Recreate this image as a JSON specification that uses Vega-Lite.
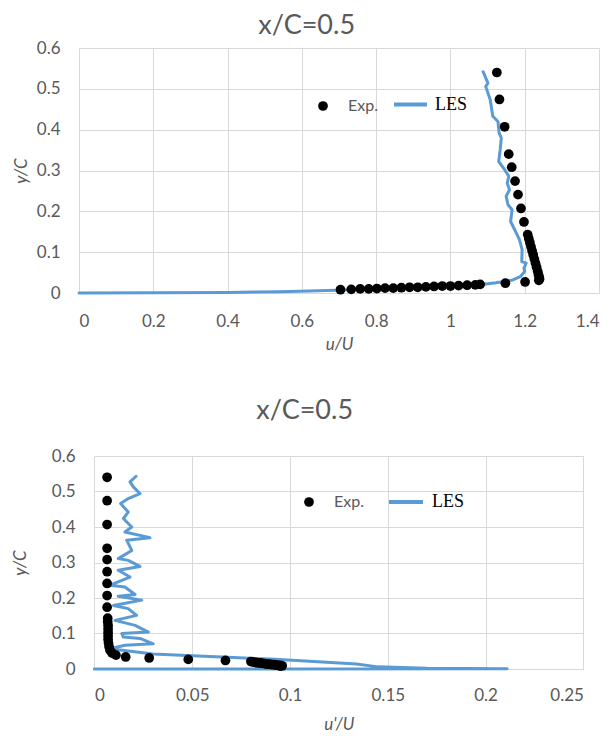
{
  "$schema": "https://vega.github.io/schema/vega-lite/v6.json",
  "padding": {"left": 11, "top": 12, "right": 5, "bottom": 5},
  "background": "white",
  "config": {
    "font": "Lato",
    "view": {"stroke": null},
    "axis": {"grid": true, "gridColor": "#D9D9D9", "gridWidth": 1, "domain": false, "ticks": false, "labelOverlap": false, "labelFont": "Lato", "labelFontSize": 17, "labelColor": "#595959", "titleFont": "Lato", "titleFontSize": 17, "titleColor": "#595959", "titleFontStyle": "italic", "titleFontWeight": "normal"},
    "title": {"font": "Lato", "fontSize": 27, "color": "#595959", "fontWeight": "normal", "frame": "bounds", "anchor": "middle"},
    "legend": {"title": null, "padding": 0, "rowPadding": 0, "labelBaseline": "middle", "orient": "none"}
  },
  "datasets": {
    "exp": [
      {"y": 0.540, "u": 1.125, "up": 0.0065},
      {"y": 0.474, "u": 1.132, "up": 0.0065},
      {"y": 0.407, "u": 1.146, "up": 0.0065},
      {"y": 0.340, "u": 1.157, "up": 0.0065},
      {"y": 0.308, "u": 1.165, "up": 0.0065},
      {"y": 0.274, "u": 1.174, "up": 0.0065},
      {"y": 0.241, "u": 1.182, "up": 0.0065},
      {"y": 0.207, "u": 1.190, "up": 0.0065},
      {"y": 0.174, "u": 1.198, "up": 0.0065},
      {"y": 0.143, "u": 1.208, "up": 0.0068},
      {"y": 0.133, "u": 1.211, "up": 0.0068},
      {"y": 0.123, "u": 1.214, "up": 0.007},
      {"y": 0.113, "u": 1.217, "up": 0.007},
      {"y": 0.103, "u": 1.220, "up": 0.007},
      {"y": 0.093, "u": 1.223, "up": 0.007},
      {"y": 0.083, "u": 1.226, "up": 0.007},
      {"y": 0.073, "u": 1.229, "up": 0.0072},
      {"y": 0.063, "u": 1.232, "up": 0.0075},
      {"y": 0.053, "u": 1.235, "up": 0.008},
      {"y": 0.045, "u": 1.237, "up": 0.009},
      {"y": 0.039, "u": 1.239, "up": 0.011},
      {"y": 0.034, "u": 1.240, "up": 0.016},
      {"y": 0.031, "u": 1.238, "up": 0.028},
      {"y": 0.027, "u": 1.201, "up": 0.048},
      {"y": 0.024, "u": 1.148, "up": 0.067},
      {"y": 0.021, "u": 1.080, "up": 0.080},
      {"y": 0.020, "u": 1.067, "up": 0.081},
      {"y": 0.019, "u": 1.045, "up": 0.082},
      {"y": 0.018, "u": 1.022, "up": 0.083},
      {"y": 0.017, "u": 1.000, "up": 0.084},
      {"y": 0.017, "u": 0.978, "up": 0.085},
      {"y": 0.016, "u": 0.956, "up": 0.086},
      {"y": 0.015, "u": 0.934, "up": 0.087},
      {"y": 0.014, "u": 0.912, "up": 0.088},
      {"y": 0.014, "u": 0.890, "up": 0.089},
      {"y": 0.013, "u": 0.868, "up": 0.090},
      {"y": 0.012, "u": 0.846, "up": 0.091},
      {"y": 0.012, "u": 0.824, "up": 0.092},
      {"y": 0.011, "u": 0.802, "up": 0.093},
      {"y": 0.010, "u": 0.780, "up": 0.094},
      {"y": 0.010, "u": 0.757, "up": 0.095},
      {"y": 0.009, "u": 0.733, "up": 0.096},
      {"y": 0.008, "u": 0.704, "up": 0.095}
    ],
    "lesU": [
      {"i": 0, "u": 0, "y": 0},
      {"i": 1, "u": 0.2, "y": 0.0008},
      {"i": 2, "u": 0.4, "y": 0.0015},
      {"i": 3, "u": 0.54, "y": 0.003},
      {"i": 4, "u": 0.62, "y": 0.005},
      {"i": 5, "u": 0.693, "y": 0.007},
      {"i": 6, "u": 0.8, "y": 0.010},
      {"i": 7, "u": 0.899, "y": 0.013},
      {"i": 8, "u": 1.0, "y": 0.016},
      {"i": 9, "u": 1.078, "y": 0.020},
      {"i": 10, "u": 1.123, "y": 0.025},
      {"i": 11, "u": 1.168, "y": 0.032},
      {"i": 12, "u": 1.188, "y": 0.040},
      {"i": 13, "u": 1.200, "y": 0.053},
      {"i": 14, "u": 1.198, "y": 0.061},
      {"i": 15, "u": 1.204, "y": 0.073},
      {"i": 16, "u": 1.192, "y": 0.077},
      {"i": 17, "u": 1.193, "y": 0.106},
      {"i": 18, "u": 1.186, "y": 0.130},
      {"i": 19, "u": 1.173, "y": 0.155},
      {"i": 20, "u": 1.162, "y": 0.175},
      {"i": 21, "u": 1.166, "y": 0.204},
      {"i": 22, "u": 1.155, "y": 0.216},
      {"i": 23, "u": 1.150, "y": 0.237},
      {"i": 24, "u": 1.159, "y": 0.253},
      {"i": 25, "u": 1.153, "y": 0.269},
      {"i": 26, "u": 1.157, "y": 0.286},
      {"i": 27, "u": 1.146, "y": 0.302},
      {"i": 28, "u": 1.130, "y": 0.322},
      {"i": 29, "u": 1.134, "y": 0.351},
      {"i": 30, "u": 1.137, "y": 0.380},
      {"i": 31, "u": 1.131, "y": 0.392},
      {"i": 32, "u": 1.128, "y": 0.420},
      {"i": 33, "u": 1.114, "y": 0.433},
      {"i": 34, "u": 1.107, "y": 0.474},
      {"i": 35, "u": 1.095, "y": 0.506},
      {"i": 36, "u": 1.101, "y": 0.514},
      {"i": 37, "u": 1.088, "y": 0.542}
    ],
    "lesUp": [
      {"i": 0, "up": 0, "y": 0},
      {"i": 1, "up": 0.211, "y": 0.0005},
      {"i": 2, "up": 0.17, "y": 0.002},
      {"i": 3, "up": 0.145, "y": 0.006},
      {"i": 4, "up": 0.134, "y": 0.014},
      {"i": 5, "up": 0.11, "y": 0.022},
      {"i": 6, "up": 0.09, "y": 0.028},
      {"i": 7, "up": 0.068, "y": 0.033},
      {"i": 8, "up": 0.05, "y": 0.037},
      {"i": 9, "up": 0.03, "y": 0.042},
      {"i": 10, "up": 0.0216, "y": 0.048},
      {"i": 11, "up": 0.008, "y": 0.057},
      {"i": 12, "up": 0.0156, "y": 0.067},
      {"i": 13, "up": 0.0301, "y": 0.071},
      {"i": 14, "up": 0.0233, "y": 0.086},
      {"i": 15, "up": 0.0148, "y": 0.090},
      {"i": 16, "up": 0.0140, "y": 0.100},
      {"i": 17, "up": 0.0276, "y": 0.104},
      {"i": 18, "up": 0.0208, "y": 0.123},
      {"i": 19, "up": 0.0105, "y": 0.137},
      {"i": 20, "up": 0.0216, "y": 0.151},
      {"i": 21, "up": 0.0173, "y": 0.170},
      {"i": 22, "up": 0.0097, "y": 0.179},
      {"i": 23, "up": 0.0242, "y": 0.194},
      {"i": 24, "up": 0.0122, "y": 0.205},
      {"i": 25, "up": 0.0208, "y": 0.210},
      {"i": 26, "up": 0.0156, "y": 0.231},
      {"i": 27, "up": 0.0080, "y": 0.236},
      {"i": 28, "up": 0.0182, "y": 0.259},
      {"i": 29, "up": 0.0122, "y": 0.278},
      {"i": 30, "up": 0.0233, "y": 0.289},
      {"i": 31, "up": 0.0173, "y": 0.306},
      {"i": 32, "up": 0.0122, "y": 0.311},
      {"i": 33, "up": 0.0191, "y": 0.334},
      {"i": 34, "up": 0.0165, "y": 0.363},
      {"i": 35, "up": 0.0284, "y": 0.370},
      {"i": 36, "up": 0.0156, "y": 0.386},
      {"i": 37, "up": 0.0191, "y": 0.400},
      {"i": 38, "up": 0.0148, "y": 0.424},
      {"i": 39, "up": 0.0173, "y": 0.442},
      {"i": 40, "up": 0.0134, "y": 0.466},
      {"i": 41, "up": 0.0173, "y": 0.480},
      {"i": 42, "up": 0.0233, "y": 0.494},
      {"i": 43, "up": 0.0199, "y": 0.513},
      {"i": 44, "up": 0.0182, "y": 0.527},
      {"i": 45, "up": 0.0213, "y": 0.543}
    ]
  },
  "spacing": 45,
  "resolve": {"scale": {"color": "independent", "shape": "independent"}},
  "vconcat": [
    {
      "title": {"text": "x/C=0.5", "offset": -1, "dx": 1},
      "width": 520,
      "height": 245,
      "layer": [
        {
          "data": {"name": "lesU"},
          "mark": {"type": "line", "strokeWidth": 3, "strokeCap": "round", "strokeJoin": "round"},
          "encoding": {
            "x": {"field": "u", "type": "quantitative", "scale": {"domain": [0, 1.4], "nice": false}, "axis": {"values": [0, 0.2, 0.4, 0.6, 0.8, 1, 1.2, 1.4], "tickCount": 20, "format": "~g", "title": "u/U", "labelPadding": 20, "titlePadding": 7}},
            "y": {"field": "y", "type": "quantitative", "scale": {"domain": [0, 0.6], "nice": false}, "axis": {"values": [0, 0.1, 0.2, 0.3, 0.4, 0.5, 0.6], "tickCount": 20, "format": "~g", "title": "y/C", "labelPadding": 19, "titlePadding": 6}},
            "order": {"field": "i", "type": "quantitative"},
            "color": {"datum": "LES", "scale": {"range": ["#5B9BD5"]}, "legend": {"symbolType": "stroke", "symbolSize": 1089, "symbolStrokeWidth": 4, "symbolStrokeColor": "#1F74C4", "labelFont": "Liberation Serif", "labelFontSize": 18, "labelColor": "#000000", "labelOffset": 6, "legendX": 313, "legendY": 38}}
          }
        },
        {
          "data": {"name": "exp"},
          "mark": {"type": "point", "filled": true, "color": "#000000", "size": 95, "opacity": 1},
          "encoding": {
            "x": {"field": "u", "type": "quantitative"},
            "y": {"field": "y", "type": "quantitative"},
            "shape": {"datum": "Exp.", "scale": {"range": ["circle"]}, "legend": {"symbolSize": 95, "symbolFillColor": "#000000", "symbolStrokeColor": "#000000", "labelFont": "Lato", "labelFontSize": 16, "labelColor": "#595959", "labelOffset": 17, "legendX": 236, "legendY": 50}}
          }
        }
      ]
    },
    {
      "title": {"text": "x/C=0.5", "offset": 22, "dx": 7},
      "width": 505,
      "height": 213,
      "layer": [
        {
          "data": {"name": "lesUp"},
          "mark": {"type": "line", "strokeWidth": 3, "strokeCap": "round", "strokeJoin": "round"},
          "encoding": {
            "x": {"field": "up", "type": "quantitative", "scale": {"domain": [0, 0.25], "nice": false, "range": [15.4, 504.4]}, "axis": {"values": [0, 0.05, 0.1, 0.15, 0.2, 0.25], "tickCount": 20, "format": "~g", "title": "u'/U", "labelPadding": 18, "titlePadding": 13}},
            "y": {"field": "y", "type": "quantitative", "scale": {"domain": [0, 0.6], "nice": false}, "axis": {"values": [0, 0.1, 0.2, 0.3, 0.4, 0.5, 0.6], "tickCount": 20, "format": "~g", "title": "y/C", "titlePadding": 22, "labelPadding": 4}},
            "order": {"field": "i", "type": "quantitative"},
            "color": {"datum": "LES", "scale": {"range": ["#5B9BD5"]}, "legend": {"symbolType": "stroke", "symbolSize": 1156, "symbolStrokeWidth": 4, "symbolStrokeColor": "#1F74C4", "labelFont": "Liberation Serif", "labelFontSize": 18, "labelColor": "#000000", "labelOffset": 7, "legendX": 308, "legendY": 27}}
          }
        },
        {
          "data": {"name": "exp"},
          "mark": {"type": "point", "filled": true, "color": "#000000", "size": 95, "opacity": 1},
          "encoding": {
            "x": {"field": "up", "type": "quantitative"},
            "y": {"field": "y", "type": "quantitative"},
            "shape": {"datum": "Exp.", "scale": {"range": ["circle"]}, "legend": {"symbolSize": 95, "symbolFillColor": "#000000", "symbolStrokeColor": "#000000", "labelFont": "Lato", "labelFontSize": 16, "labelColor": "#595959", "labelOffset": 17, "legendX": 222, "legendY": 38}}
          }
        }
      ]
    }
  ]
}
